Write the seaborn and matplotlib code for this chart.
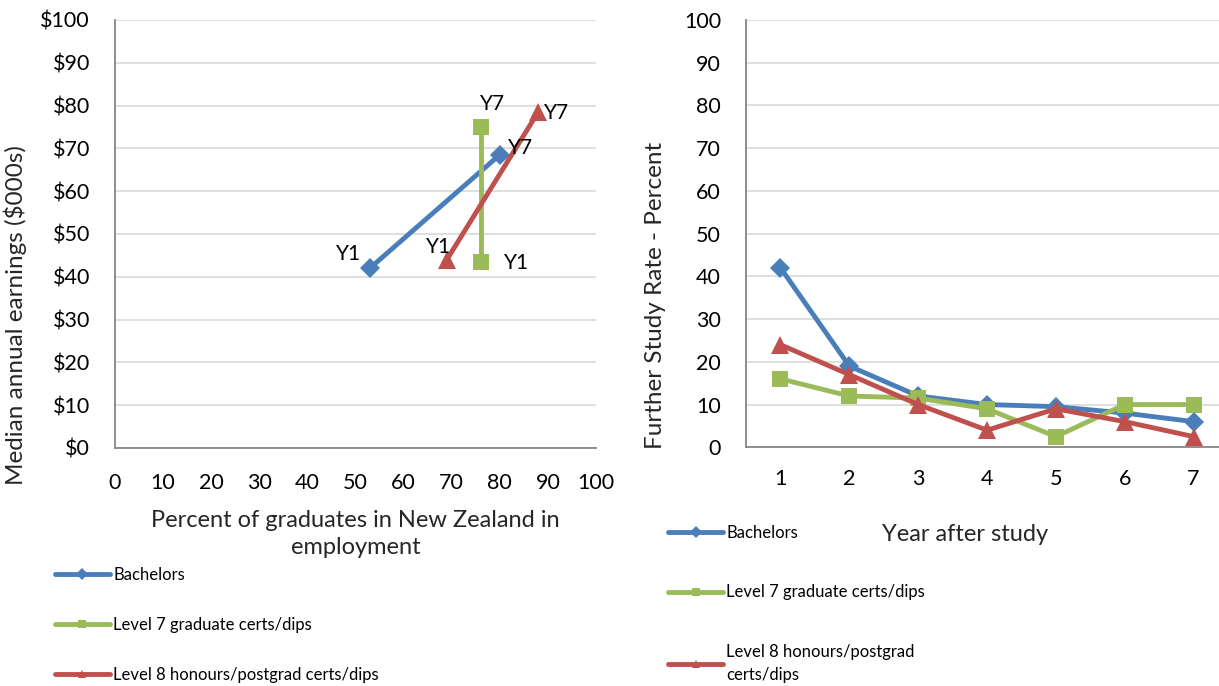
import numpy as np
import pandas as pd
import matplotlib
matplotlib.use("Agg")
import matplotlib.pyplot as plt
from matplotlib.lines import Line2D
from matplotlib.ticker import MultipleLocator, FuncFormatter
import seaborn as sns

# ── Data ───────────────────────────────────────────────────────────────────────
QUALS    = ["Bachelors", "Level 7 graduate certs/dips",
            "Level 8 honours/postgrad certs/dips"]
EMP_Y1   = [53, 76, 69]          # % of graduates in NZ in employment, year 1
EMP_Y7   = [80, 76, 88]          # ... year 7
EARN_Y1  = [42, 43.5, 44]        # median annual earnings ($000s), year 1
EARN_Y7  = [68.5, 75, 78.5]      # ... year 7

YEARS      = [1, 2, 3, 4, 5, 6, 7]
RATE_BACH  = [42, 19, 12, 10, 9.5, 8, 6]
RATE_L7    = [16, 12, 11.5, 9, 2.5, 10, 10]
RATE_L8    = [24, 17, 10, 4, 9, 6, 2.5]

# ── Style ──────────────────────────────────────────────────────────────────────
COLORS  = ["#4A7EBB", "#9BBB59", "#C0504D"]
MARKERS = ["D", "s", "^"]
MSIZE   = [10, 12, 13]
GRID    = "#D9D9D9"
SPINE   = "#868686"

sns.set_theme(style="white")
plt.rcParams["font.family"] = ["Lato", "DejaVu Sans"]
plt.rcParams["text.color"] = "#000000"

fig = plt.figure(figsize=(12.19, 6.86), dpi=100)
ax1 = fig.add_axes([0.0943, 0.347, 0.3946, 0.624])
ax2 = fig.add_axes([0.612, 0.348, 0.3954, 0.623])


def style_axes(ax):
    for s in ["top", "right"]:
        ax.spines[s].set_visible(False)
    for s in ["left", "bottom"]:
        ax.spines[s].set_color(SPINE)
        ax.spines[s].set_linewidth(1.3)
    ax.yaxis.grid(True, color=GRID, lw=1.2)
    ax.xaxis.grid(False)
    ax.set_axisbelow(True)
    ax.tick_params(axis="both", colors=SPINE, labelcolor="black",
                   labelsize=15.5, direction="out", width=1.3)
    ax.tick_params(axis="y", length=7, pad=11)


# ── Left: earnings vs employment ──────────────────────────────────────────────
df_left = pd.DataFrame({
    "qual": [q for q in QUALS for _ in range(2)],
    "emp":  [v for pair in zip(EMP_Y1, EMP_Y7) for v in pair],
    "earn": [v for pair in zip(EARN_Y1, EARN_Y7) for v in pair],
})
for q, col, mk, ms in zip(QUALS, COLORS, MARKERS, MSIZE):
    sub = df_left[df_left["qual"] == q]
    sns.lineplot(data=sub, x="emp", y="earn", ax=ax1, color=col, lw=3.5,
                 marker=mk, markersize=ms, markeredgewidth=0, sort=False,
                 estimator=None, legend=False)

# Y1 / Y7 labels (pixel offsets from the point)
label_offsets = [((-21, 14), (21, 7)),
                 ((36, -1), (12, 23)),
                 ((-8, 13), (18, -1))]
for i, (o1, o7) in enumerate(label_offsets):
    ax1.annotate("Y1", (EMP_Y1[i], EARN_Y1[i]), xytext=o1,
                 textcoords="offset pixels", ha="center", va="center",
                 fontsize=15)
    ax1.annotate("Y7", (EMP_Y7[i], EARN_Y7[i]), xytext=o7,
                 textcoords="offset pixels", ha="center", va="center",
                 fontsize=15)

style_axes(ax1)
ax1.set_xlim(0, 100)
ax1.set_ylim(0, 100)
ax1.xaxis.set_major_locator(MultipleLocator(10))
ax1.yaxis.set_major_locator(MultipleLocator(10))
ax1.yaxis.set_major_formatter(FuncFormatter(lambda v, _: f"${v:.0f}"))
ax1.tick_params(axis="x", length=10, pad=8)
ax1.set_xlabel("Percent of graduates in New Zealand in\nemployment",
               fontsize=17, linespacing=1.35, labelpad=12)
ax1.set_ylabel("Median annual earnings ($000s)", fontsize=17.5)
ax1.yaxis.set_label_coords(-0.183, 0.31)

# ── Right: further study rate ─────────────────────────────────────────────────
df_right = pd.DataFrame({
    "year": YEARS * 3,
    "rate": RATE_BACH + RATE_L7 + RATE_L8,
    "qual": [q for q in QUALS for _ in YEARS],
})
for q, col, mk, ms in zip(QUALS, COLORS, MARKERS, MSIZE):
    sub = df_right[df_right["qual"] == q]
    sns.lineplot(data=sub, x="year", y="rate", ax=ax2, color=col, lw=3.5,
                 marker=mk, markersize=ms, markeredgewidth=0,
                 estimator=None, legend=False)

style_axes(ax2)
ax2.set_xlim(0.5, 7.5)
ax2.set_ylim(0, 100)
ax2.set_xticks(YEARS)
ax2.set_xticks([y + 0.5 for y in YEARS[:-1]], minor=True)
ax2.tick_params(axis="x", which="major", length=0, pad=16)
ax2.tick_params(axis="x", which="minor", length=8, color=SPINE, width=1.3)
ax2.yaxis.set_major_locator(MultipleLocator(10))
ax2.set_xlabel("Year after study", fontsize=17)
ax2.xaxis.set_label_coords(0.455, -0.18)
ax2.set_ylabel("Further Study Rate - Percent", fontsize=17.5)
ax2.yaxis.set_label_coords(-0.165, 0.355)

# ── Legends ────────────────────────────────────────────────────────────────────
def handles(labels):
    return [Line2D([], [], color=c, lw=3.5, marker=m, markersize=6,
                   markeredgewidth=0, label=l)
            for c, m, l in zip(COLORS, MARKERS, labels)]

leg1 = fig.legend(handles=handles(QUALS), loc="upper left",
                  bbox_to_anchor=(0.045, 0.173), frameon=False, fontsize=12,
                  handlelength=3.3, handletextpad=0.2, labelspacing=2.03,
                  borderpad=0, borderaxespad=0)

labels2 = ["Bachelors", "Level 7 graduate certs/dips",
           "Level 8 honours/postgrad\ncerts/dips"]
leg2 = fig.legend(handles=handles(labels2), loc="upper left",
                  bbox_to_anchor=(0.548, 0.235), frameon=False, fontsize=12,
                  handlelength=3.3, handletextpad=0.2, labelspacing=2.62,
                  borderpad=0, borderaxespad=0)
for t in leg2.get_texts():
    t.set_linespacing(1.5)

fig.savefig("out.png", dpi=100)
